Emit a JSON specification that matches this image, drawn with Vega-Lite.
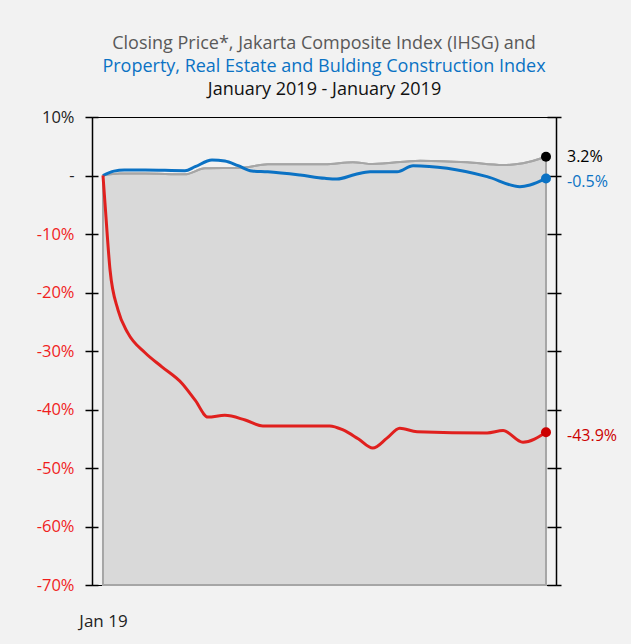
{
  "$schema": "https://vega.github.io/schema/vega-lite/v6.json",
  "autosize": {"type": "none"},
  "padding": {"left": 92, "top": 117, "right": 75, "bottom": 59},
  "width": 464,
  "height": 468,
  "background": "#f2f2f2",
  "config": {
    "font": "Open Sans",
    "view": {"stroke": "#000", "strokeWidth": 1, "fill": "#f2f2f2"}
  },
  "title": {
    "text": "Closing Price*, Jakarta Composite Index (IHSG) and",
    "subtitle": "Property, Real Estate and Bulding Construction Index",
    "frame": "group",
    "anchor": "middle",
    "font": "Open Sans",
    "fontSize": 18,
    "fontWeight": "normal",
    "color": "#595959",
    "subtitleFont": "Open Sans",
    "subtitleFontSize": 18,
    "subtitleColor": "#0b72c4",
    "subtitlePadding": 5,
    "offset": 4
  },
  "datasets": {
    "ihsg": [
      {"t": 0, "v": 0}, {"t": 3.8, "v": 0.34}, {"t": 9.5, "v": 0.34}, {"t": 18.5, "v": 0.2},
      {"t": 23.0, "v": 1.23}, {"t": 31.4, "v": 1.33}, {"t": 37.2, "v": 1.91}, {"t": 50.1, "v": 1.91},
      {"t": 56.4, "v": 2.26}, {"t": 60.9, "v": 1.97}, {"t": 71.6, "v": 2.53}, {"t": 82.2, "v": 2.26},
      {"t": 90.3, "v": 1.79}, {"t": 94.8, "v": 2.09}, {"t": 100, "v": 3.2}
    ],
    "property": [
      {"t": 0, "v": 0}, {"t": 2.5, "v": 0.75}, {"t": 4.8, "v": 0.94}, {"t": 9.5, "v": 0.94},
      {"t": 18.5, "v": 0.82}, {"t": 20.8, "v": 1.5}, {"t": 24.6, "v": 2.65}, {"t": 27.5, "v": 2.48},
      {"t": 30.5, "v": 1.68}, {"t": 33.6, "v": 0.77}, {"t": 37.2, "v": 0.65}, {"t": 44.5, "v": 0.09},
      {"t": 50.1, "v": -0.48}, {"t": 52.8, "v": -0.6}, {"t": 56.9, "v": 0.17}, {"t": 60.3, "v": 0.65},
      {"t": 66.4, "v": 0.65}, {"t": 70.0, "v": 1.68}, {"t": 77.7, "v": 1.23}, {"t": 86.7, "v": -0.2},
      {"t": 94.1, "v": -1.91}, {"t": 96.4, "v": -1.62}, {"t": 100, "v": -0.5}
    ],
    "price": [
      {"t": 0, "v": 0}, {"t": 0.45, "v": -4.7}, {"t": 1.6, "v": -16.2}, {"t": 3.4, "v": -23.0},
      {"t": 5.6, "v": -26.9}, {"t": 9.5, "v": -30.3}, {"t": 13.3, "v": -32.7}, {"t": 17.8, "v": -35.5},
      {"t": 20.8, "v": -38.4}, {"t": 23.7, "v": -41.3}, {"t": 27.5, "v": -41.0}, {"t": 32.1, "v": -41.8},
      {"t": 36.1, "v": -42.8}, {"t": 44.5, "v": -42.8}, {"t": 51.2, "v": -42.8}, {"t": 54.2, "v": -43.5},
      {"t": 57.6, "v": -45.0}, {"t": 60.9, "v": -46.6}, {"t": 64.1, "v": -44.9}, {"t": 67.0, "v": -43.2},
      {"t": 70.9, "v": -43.8}, {"t": 86.7, "v": -44.0}, {"t": 90.3, "v": -43.6}, {"t": 94.8, "v": -45.6},
      {"t": 100, "v": -43.9}
    ],
    "ends": [
      {"series": "IHSG", "t": 100, "v": 3.2, "label": "3.2%"},
      {"series": "Property", "t": 100, "v": -0.5, "label": "-0.5%"},
      {"series": "Price", "t": 100, "v": -43.9, "label": "-43.9%"}
    ]
  },
  "resolve": {"axis": {"x": "independent", "y": "independent"}},
  "layer": [
    {
      "data": {"name": "ihsg"},
      "mark": {"type": "area", "interpolate": "monotone", "fill": "#d9d9d9", "stroke": "#a6a6a6", "strokeWidth": 2},
      "encoding": {
        "x": {"field": "t", "type": "quantitative", "scale": {"domain": [-2.48, 102.26], "nice": false, "zero": false},
          "axis": {"orient": "bottom", "values": [0], "labelExpr": "'Jan 19'", "title": null, "ticks": false, "domain": false,
            "labelPadding": 28, "labelFontSize": 17, "labelColor": "#222", "labelFont": "Open Sans", "grid": false}},
        "y": {"field": "v", "type": "quantitative", "scale": {"domain": [-70, 10], "nice": false, "zero": false},
          "axis": {"orient": "left", "values": [10, 0, -10, -20, -30, -40, -50, -60, -70],
            "labelExpr": "datum.value == 0 ? '-' : datum.value + '%'",
            "labelColor": {"condition": {"test": "datum.value < 0", "value": "#f01e1e"}, "value": "#222"},
            "labelFontSize": 16.5, "labelFont": "Open Sans", "labelPadding": 11, "tickSize": 7, "tickColor": "#000", "tickWidth": 1.5,
            "domainColor": "#000", "domainWidth": 1.5, "title": null, "grid": false}},
        "y2": {"datum": -70}
      }
    },
    {
      "data": {"name": "ihsg"},
      "mark": {"type": "line", "interpolate": "monotone", "stroke": "#a6a6a6", "strokeWidth": 2},
      "encoding": {
        "x": {"field": "t", "type": "quantitative",
          "axis": {"orient": "top", "title": "January 2019 - January 2019", "labels": false, "ticks": false, "domain": false, "grid": false,
            "titleFontSize": 18, "titleFont": "Open Sans", "titleFontWeight": "normal", "titleColor": "#111", "titlePadding": 19}},
        "y": {"field": "v", "type": "quantitative",
          "axis": {"orient": "right", "values": [10, 0, -10, -20, -30, -40, -50, -60, -70], "labels": false, "title": null, "grid": false,
            "tickSize": 5, "tickColor": "#000", "tickWidth": 1.5, "domainColor": "#000", "domainWidth": 1.5}}
      }
    },
    {
      "data": {"name": "property"},
      "mark": {"type": "line", "interpolate": "monotone", "stroke": "#0b72c4", "strokeWidth": 3},
      "encoding": {
        "x": {"field": "t", "type": "quantitative", "axis": null},
        "y": {"field": "v", "type": "quantitative",
          "axis": {"orient": "left", "values": [10, 0, -10, -20, -30, -40, -50, -60, -70], "labels": false, "domain": false, "title": null, "grid": false,
            "tickSize": -6, "tickColor": "#000", "tickWidth": 1.5}}
      }
    },
    {
      "data": {"name": "price"},
      "mark": {"type": "line", "interpolate": "monotone", "stroke": "#e0201e", "strokeWidth": 3},
      "encoding": {
        "x": {"field": "t", "type": "quantitative", "axis": null},
        "y": {"field": "v", "type": "quantitative",
          "axis": {"orient": "right", "values": [10, 0, -10, -20, -30, -40, -50, -60, -70], "labels": false, "domain": false, "title": null, "grid": false,
            "tickSize": -9, "tickColor": "#000", "tickWidth": 1.5}}
      }
    },
    {
      "data": {"name": "ends"},
      "mark": {"type": "point", "filled": true, "opacity": 1, "size": 100, "shape": "circle"},
      "encoding": {
        "x": {"field": "t", "type": "quantitative", "axis": null},
        "y": {"field": "v", "type": "quantitative", "axis": null},
        "color": {"field": "series", "type": "nominal", "legend": null,
          "scale": {"domain": ["IHSG", "Property", "Price"], "range": ["#000000", "#0b72c4", "#cc0000"]}}
      }
    },
    {
      "data": {"name": "ends"},
      "transform": [{"filter": "datum.series == 'IHSG'"}],
      "mark": {"type": "text", "align": "left", "baseline": "middle", "dx": 21, "dy": 0, "fontSize": 16, "font": "Open Sans"},
      "encoding": {
        "x": {"field": "t", "type": "quantitative", "axis": null},
        "y": {"field": "v", "type": "quantitative", "axis": null},
        "text": {"field": "label"},
        "color": {"field": "series", "type": "nominal", "legend": null,
          "scale": {"domain": ["IHSG", "Property", "Price"], "range": ["#111111", "#0b72c4", "#d0101a"]}}
      }
    },
    {
      "data": {"name": "ends"},
      "transform": [{"filter": "datum.series != 'IHSG'"}],
      "mark": {"type": "text", "align": "left", "baseline": "middle", "dx": 21, "dy": 4, "fontSize": 16, "font": "Open Sans"},
      "encoding": {
        "x": {"field": "t", "type": "quantitative", "axis": null},
        "y": {"field": "v", "type": "quantitative", "axis": null},
        "text": {"field": "label"},
        "color": {"field": "series", "type": "nominal", "legend": null}
      }
    }
  ]
}
